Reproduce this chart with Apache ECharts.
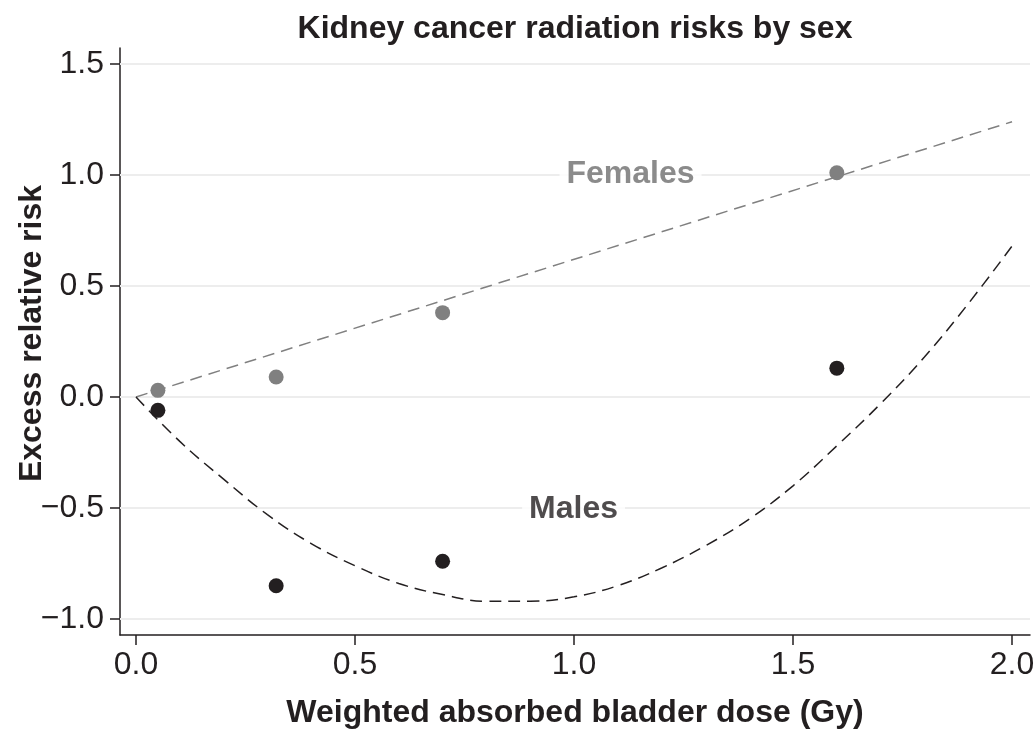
<!DOCTYPE html>
<html><head><meta charset="utf-8">
<script src="https://cdn.jsdelivr.net/npm/echarts@6/dist/echarts.min.js"></script>
<style>html,body{margin:0;padding:0;background:#fff}#c{width:1035px;height:729px}</style>
</head><body><div id="c"></div>
<script>
// ---- data ----
const xTicks = [0, 0.5, 1.0, 1.5, 2.0];
const yTicks = [-1.0, -0.5, 0.0, 0.5, 1.0, 1.5];
const doses = [0.05, 0.32, 0.70, 1.60];
const femalesObs = [0.03, 0.09, 0.38, 1.01];
const malesObs = [-0.06, -0.85, -0.74, 0.13];
const femalesFitDose = [0, 2.0];
const femalesFit = [0, 1.24];
const malesFitDose = [0, 0.1, 0.2, 0.3, 0.4, 0.5, 0.6, 0.7, 0.8, 0.9, 1.0, 1.1, 1.2, 1.3, 1.4, 1.5, 1.6, 1.7, 1.8, 1.9, 2.0];
const malesFit = [0, -0.20, -0.37, -0.53, -0.66, -0.76, -0.84, -0.89, -0.92, -0.92, -0.90, -0.85, -0.77, -0.67, -0.55, -0.40, -0.22, -0.03, 0.18, 0.42, 0.68];
const groupNames = ['Females', 'Males'];
const groupLabelX = [1.129, 0.999];
const groupLabelY = [1.005, -0.505];

const FONT = "'Liberation Sans', Arial, Helvetica, sans-serif";
const DARK = '#231f20';
const GREY = '#808080';
const GREY_TXT = '#6e6e6e';
const fmt = v => (v < 0 ? '\u2212' : '') + Math.abs(v).toFixed(1);
const zip = (a, b) => a.map((v, i) => [v, b[i]]);

const chart = echarts.init(document.getElementById('c'), null, {renderer: 'canvas'});
chart.setOption({
  backgroundColor: '#fff',
  animation: false,
  title: {
    text: 'Kidney cancer radiation risks by sex',
    left: 570, top: 8, textAlign: 'center',
    textStyle: {fontFamily: FONT, fontSize: 32, fontWeight: 'bold', color: DARK}
  },
  grid: {left: 120, right: 5, top: 48, bottom: 94, containLabel: false, outerBoundsMode: 'none'},
  xAxis: {
    type: 'value', min: -0.0365, max: 2.041,
    name: 'Weighted absorbed bladder dose (Gy)', nameLocation: 'middle', nameGap: 62, nameMoveOverlap: false,
    nameTextStyle: {fontFamily: FONT, fontSize: 32, fontWeight: 'bold', color: DARK},
    axisLine: {show: true, onZero: false, lineStyle: {color: DARK, width: 1.5}},
    axisTick: {show: true, length: 10, lineStyle: {color: DARK, width: 1.5}, customValues: xTicks},
    axisLabel: {customValues: xTicks, formatter: fmt, fontFamily: FONT, fontSize: 32, color: DARK, margin: 14},
    splitLine: {show: false}
  },
  yAxis: {
    type: 'value', min: -1.072, max: 1.572,
    name: 'Excess relative risk', nameLocation: 'middle', nameGap: 72, nameMoveOverlap: false,
    nameTextStyle: {fontFamily: FONT, fontSize: 32, fontWeight: 'bold', color: DARK, padding: [0, 0, 0, 16]},
    axisLine: {show: true, onZero: false, lineStyle: {color: DARK, width: 1.5}},
    axisTick: {show: true, length: 10, lineStyle: {color: DARK, width: 1.5}, customValues: yTicks},
    axisLabel: {customValues: yTicks, formatter: fmt, fontFamily: FONT, fontSize: 32, color: DARK, margin: 16},
    splitLine: {show: false}
  },
  series: [
    {
      type: 'line', data: [], z: 1, silent: true,
      markLine: {
        z: 1, silent: true, symbol: 'none', label: {show: false}, animation: false,
        lineStyle: {color: '#ededed', width: 2, type: 'solid'},
        emphasis: {disabled: true},
        data: yTicks.map(v => ({yAxis: v}))
      }
    },
    {
      name: 'Females fit', type: 'line', data: zip(femalesFitDose, femalesFit), z: 3,
      showSymbol: false, lineStyle: {color: GREY, width: 1.5, type: [12, 7]}
    },
    {
      name: 'Males fit', type: 'line', data: zip(malesFitDose, malesFit), z: 3, smooth: 0.4,
      showSymbol: false, lineStyle: {color: DARK, width: 1.5, type: [12, 7]}
    },
    {
      name: 'Females', type: 'scatter', data: zip(doses, femalesObs), z: 6,
      symbolSize: 15, itemStyle: {color: GREY, opacity: 1}
    },
    {
      name: 'Males', type: 'scatter', data: zip(doses, malesObs), z: 6,
      symbolSize: 15, itemStyle: {color: DARK, opacity: 1}
    },
    {
      type: 'scatter', z: 10, silent: true, symbolSize: 1, itemStyle: {color: 'rgba(0,0,0,0)'},
      data: groupNames.map((n, i) => ({
        value: [groupLabelX[i], groupLabelY[i]],
        label: {
          show: true, position: 'inside', formatter: n,
          fontFamily: FONT, fontSize: 32, fontWeight: 'bold',
          color: i === 0 ? GREY_TXT : DARK,
          backgroundColor: '#ffffff', padding: [0, 7]
        }
      }))
    }
  ]
});
</script>
</body></html>
